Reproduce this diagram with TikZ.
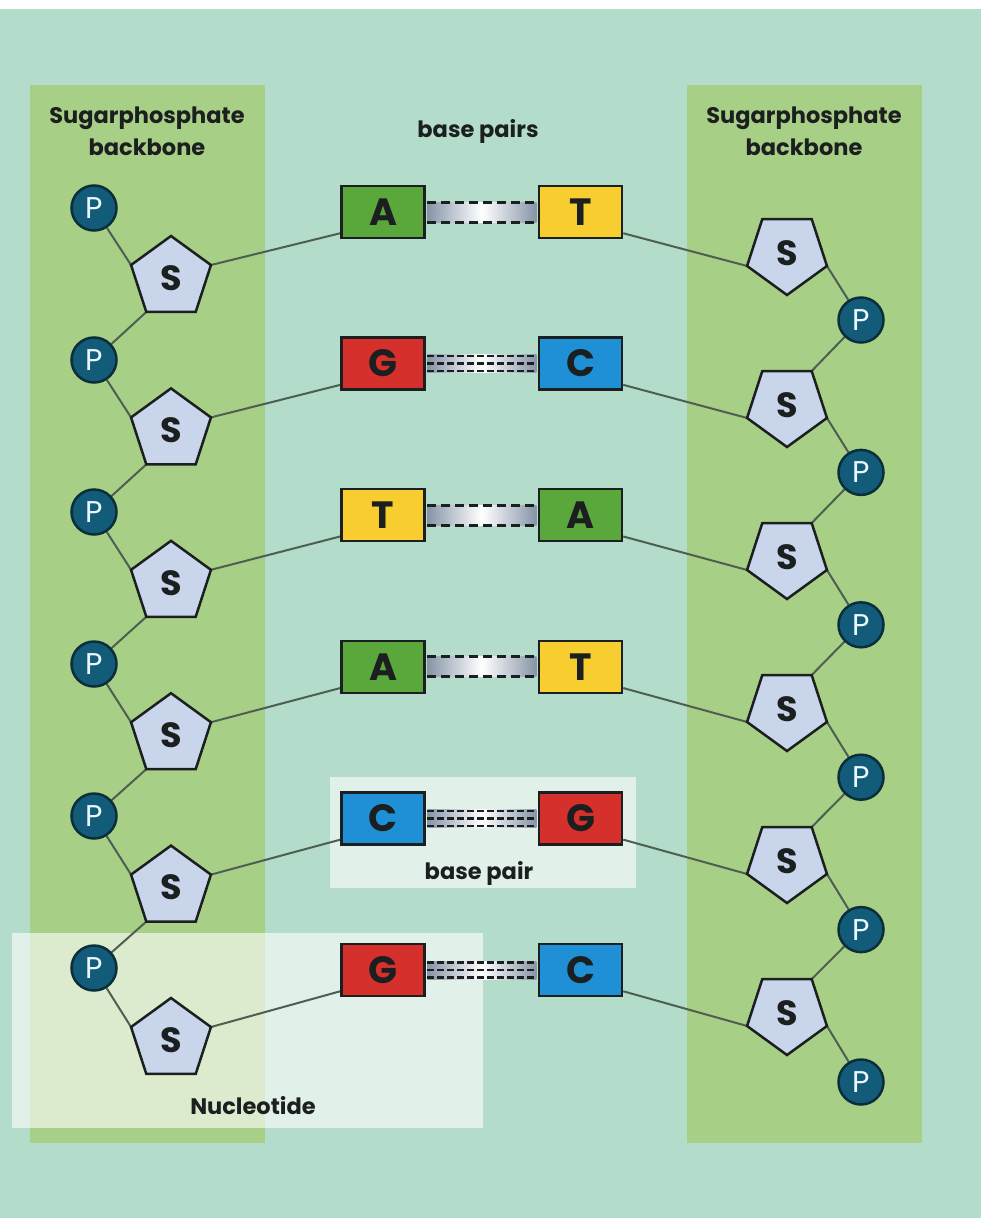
\documentclass[tikz,border=0pt]{standalone}
\usepackage{fontspec}
\setmainfont{Poppins}
\usetikzlibrary{shapes.geometric,calc}
\definecolor{bgc}{HTML}{B4DCCB}
\definecolor{panel}{HTML}{A8CF86}
\definecolor{cA}{HTML}{5AA83C}
\definecolor{cT}{HTML}{F8CD30}
\definecolor{cG}{HTML}{D6302D}
\definecolor{cC}{HTML}{1F8FD6}
\definecolor{sfill}{HTML}{C8D5EA}
\definecolor{pfill}{HTML}{125C7A}
\definecolor{pdraw}{HTML}{0B2E3A}
\definecolor{ink}{HTML}{1B1F1F}
\definecolor{linec}{HTML}{4E5E52}
\definecolor{bandc}{HTML}{8795A8}
\pgfdeclarelayer{bg}\pgfdeclarelayer{lines}
\pgfsetlayers{bg,lines,main}
\begin{document}
\begin{tikzpicture}[x=1pt,y=-1pt,
  lbl/.style={text=ink,align=center,font=\bfseries\fontsize{22.5}{32}\selectfont},
  basebox/.style={draw=ink,line width=2.5pt,minimum width=83pt,minimum height=52pt,inner sep=0pt,text=ink,font=\bfseries\fontsize{38}{38}\selectfont},
  pnode/.style={circle,draw=pdraw,fill=pfill,line width=2.5pt,minimum size=45pt,inner sep=0pt,text=white!92!cyan,font=\fontsize{30}{30}\selectfont},
  snode/.style={regular polygon,regular polygon sides=5,draw=ink,fill=sfill,line width=2.5pt,minimum size=84pt,inner sep=0pt,outer sep=0pt,text=ink,font=\bfseries\fontsize{35}{35}\selectfont},
  bb/.style={draw=linec,line width=2pt},
  hbAT/.style={draw=ink,line width=3pt,dash pattern=on 9pt off 5pt},
  hbGC/.style={draw=ink,line width=2.5pt,dash pattern=on 7pt off 3pt}
]
\useasboundingbox (0,0) rectangle (981,1218);
\begin{pgfonlayer}{bg}
\fill[bgc] (0,0) rectangle (981,1218);
\fill[white] (0,0) rectangle (981,9);
\fill[panel] (30,85) rectangle (265,1143);
\fill[panel] (687,85) rectangle (922,1143);
\fill[white,opacity=0.6] (330,777) rectangle (636,888);
\fill[white,opacity=0.6] (12,933) rectangle (483,1128);
\end{pgfonlayer}

\node[lbl] (lblL) at (147,131) {Sugarphosphate\\backbone};
\node[lbl] (lblR) at (804,131) {Sugarphosphate\\backbone};
\node[lbl] (lblM) at (478,131) {base pairs};
\node[lbl] (lblBP) at (479,873) {base pair};
\node[lbl] (lblN) at (253,1106) {Nucleotide};

\foreach \i/\l/\lc/\r/\rc in {1/A/cA/T/cT,2/G/cG/C/cC,3/T/cT/A/cA,4/A/cA/T/cT,5/C/cC/G/cG,6/G/cG/C/cC}{
  \pgfmathsetmacro{\yb}{212+151.6*(\i-1)}
  \pgfmathsetmacro{\yp}{208+152*(\i-1)}
  \pgfmathsetmacro{\ys}{278+152.4*(\i-1)}
  \pgfmathsetmacro{\yr}{253+152*(\i-1)}
  \pgfmathsetmacro{\yq}{320+152.4*(\i-1)}
  \node[basebox,fill=\lc] (L\i) at (383,\yb) {\l};
  \node[basebox,fill=\rc] (R\i) at (580.5,\yb) {\r};
  \node[pnode] (PL\i) at (94,\yp) {P};
  \node[snode] (SL\i) at (171,\ys) {S};
  \node[snode,shape border rotate=180] (SR\i) at (787,\yr) {S};
  \node[pnode] (PR\i) at (861,\yq) {P};
}

\begin{pgfonlayer}{lines}
\foreach \i in {1,...,6}{
  \draw[bb] (PL\i) -- (SL\i.corner 2);
  \draw[bb] (SL\i.corner 5) -- ([yshift=6pt]L\i.south west);
  \draw[bb] ([yshift=6pt]R\i.south east) -- (SR\i.corner 5);
  \draw[bb] (SR\i.corner 2) -- (PR\i);
}
\foreach \i [evaluate=\i as \j using int(\i+1)] in {1,...,5}{
  \draw[bb] (SL\i.corner 3) -- (PL\j);
  \draw[bb] (PR\i) -- (SR\j.corner 3);
}
\end{pgfonlayer}

% two hydrogen bonds (A-T)
\foreach \i in {1,3,4}{
  \shade[left color=bandc,right color=bandc,middle color=white] ($(L\i.east)+(1.5,-10)$) rectangle ($(R\i.west)+(-1.5,10)$);
  \draw[hbAT] ($(L\i.east)+(1.5,-10)$) -- ($(R\i.west)+(-1.5,-10)$);
  \draw[hbAT] ($(L\i.east)+(1.5,10)$) -- ($(R\i.west)+(-1.5,10)$);
}
% three hydrogen bonds (G-C)
\foreach \i in {2,5,6}{
  \shade[left color=bandc,right color=bandc,middle color=white] ($(L\i.east)+(1.5,-9)$) rectangle ($(R\i.west)+(-1.5,9)$);
  \draw[hbGC] ($(L\i.east)+(1.5,-7.5)$) -- ($(R\i.west)+(-1.5,-7.5)$);
  \draw[hbGC] ($(L\i.east)+(1.5,0)$) -- ($(R\i.west)+(-1.5,0)$);
  \draw[hbGC] ($(L\i.east)+(1.5,7.5)$) -- ($(R\i.west)+(-1.5,7.5)$);
}
\end{tikzpicture}
\end{document}
